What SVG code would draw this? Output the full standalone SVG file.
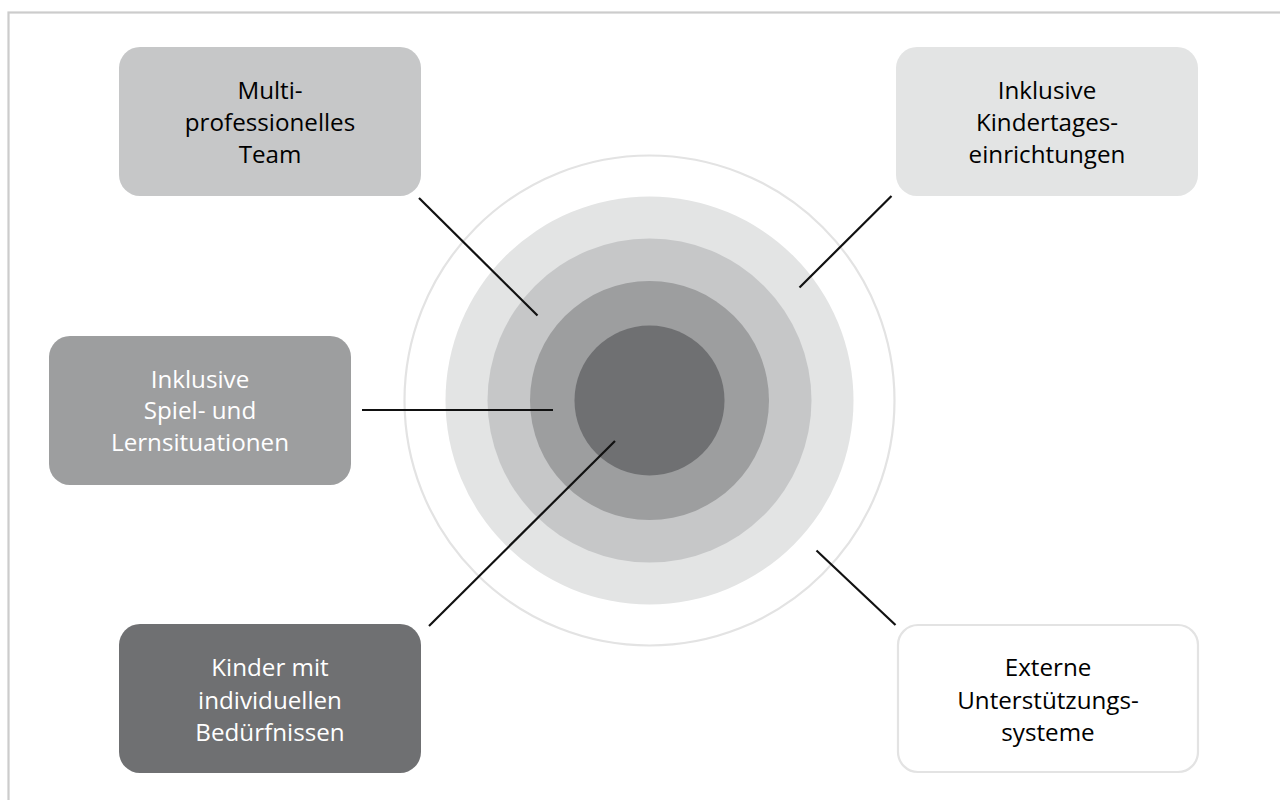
<svg xmlns="http://www.w3.org/2000/svg" width="1280" height="800" viewBox="0 0 1280 800">
<style>
.lbl{font-family:"Open Sans","Noto Sans","Liberation Sans",sans-serif;font-size:24.2px;text-anchor:middle}
.dark{fill:#000}
.light{fill:#ffffff}
.conn{stroke:#111;stroke-width:2.2;fill:none}
</style>
<rect width="1280" height="800" fill="#ffffff"/>
<rect x="8.5" y="12.5" width="1300" height="820" fill="none" stroke="#cccccc" stroke-width="2.2"/>
<g id="rings">
<circle cx="649.5" cy="400.5" r="245" fill="none" stroke="#e3e3e3" stroke-width="2.2"/>
<circle cx="649.5" cy="400.5" r="204" fill="#e3e4e4"/>
<circle cx="649.5" cy="400.5" r="162" fill="#c6c7c8"/>
<circle cx="649.5" cy="400.5" r="119.5" fill="#9d9e9f"/>
<circle cx="649.5" cy="400.5" r="75" fill="#6f7072"/>
</g>
<g id="connectors">
<line class="conn" x1="419" y1="198" x2="537.5" y2="315.5"/>
<line class="conn" x1="891.5" y1="196" x2="799.5" y2="287.5"/>
<line class="conn" x1="362" y1="410" x2="553" y2="410"/>
<line class="conn" x1="615" y1="441" x2="429" y2="626"/>
<line class="conn" x1="816.5" y1="550.5" x2="895.5" y2="625"/>
</g>
<g id="node-team">
<rect x="119" y="47" width="302" height="149" rx="21" fill="#c6c7c8"/>
<text class="lbl dark" x="270" y="99">Multi-</text>
<text class="lbl dark" x="270" y="131">professionelles</text>
<text class="lbl dark" x="270" y="163">Team</text>
</g>
<g id="node-kita">
<rect x="896" y="47" width="302" height="149" rx="21" fill="#e3e4e4"/>
<text class="lbl dark" x="1047" y="99">Inklusive</text>
<text class="lbl dark" x="1047" y="131">Kindertages-</text>
<text class="lbl dark" x="1047" y="163">einrichtungen</text>
</g>
<g id="node-spiel">
<rect x="49" y="336" width="302" height="149" rx="21" fill="#9d9e9f"/>
<text class="lbl light" x="200" y="387.5">Inklusive</text>
<text class="lbl light" x="200" y="419.3">Spiel- und</text>
<text class="lbl light" x="200" y="451">Lernsituationen</text>
</g>
<g id="node-kinder">
<rect x="119" y="624" width="302" height="149" rx="21" fill="#6f7072"/>
<text class="lbl light" x="270" y="676">Kinder mit</text>
<text class="lbl light" x="270" y="708.5">individuellen</text>
<text class="lbl light" x="270" y="740.5">Bedürfnissen</text>
</g>
<g id="node-extern">
<rect x="898" y="625" width="300" height="147" rx="20" fill="#ffffff" stroke="#e3e3e3" stroke-width="2.2"/>
<text class="lbl dark" x="1048" y="676">Externe</text>
<text class="lbl dark" x="1048" y="708.5">Unterstützungs-</text>
<text class="lbl dark" x="1048" y="740.5">systeme</text>
</g>
</svg>
